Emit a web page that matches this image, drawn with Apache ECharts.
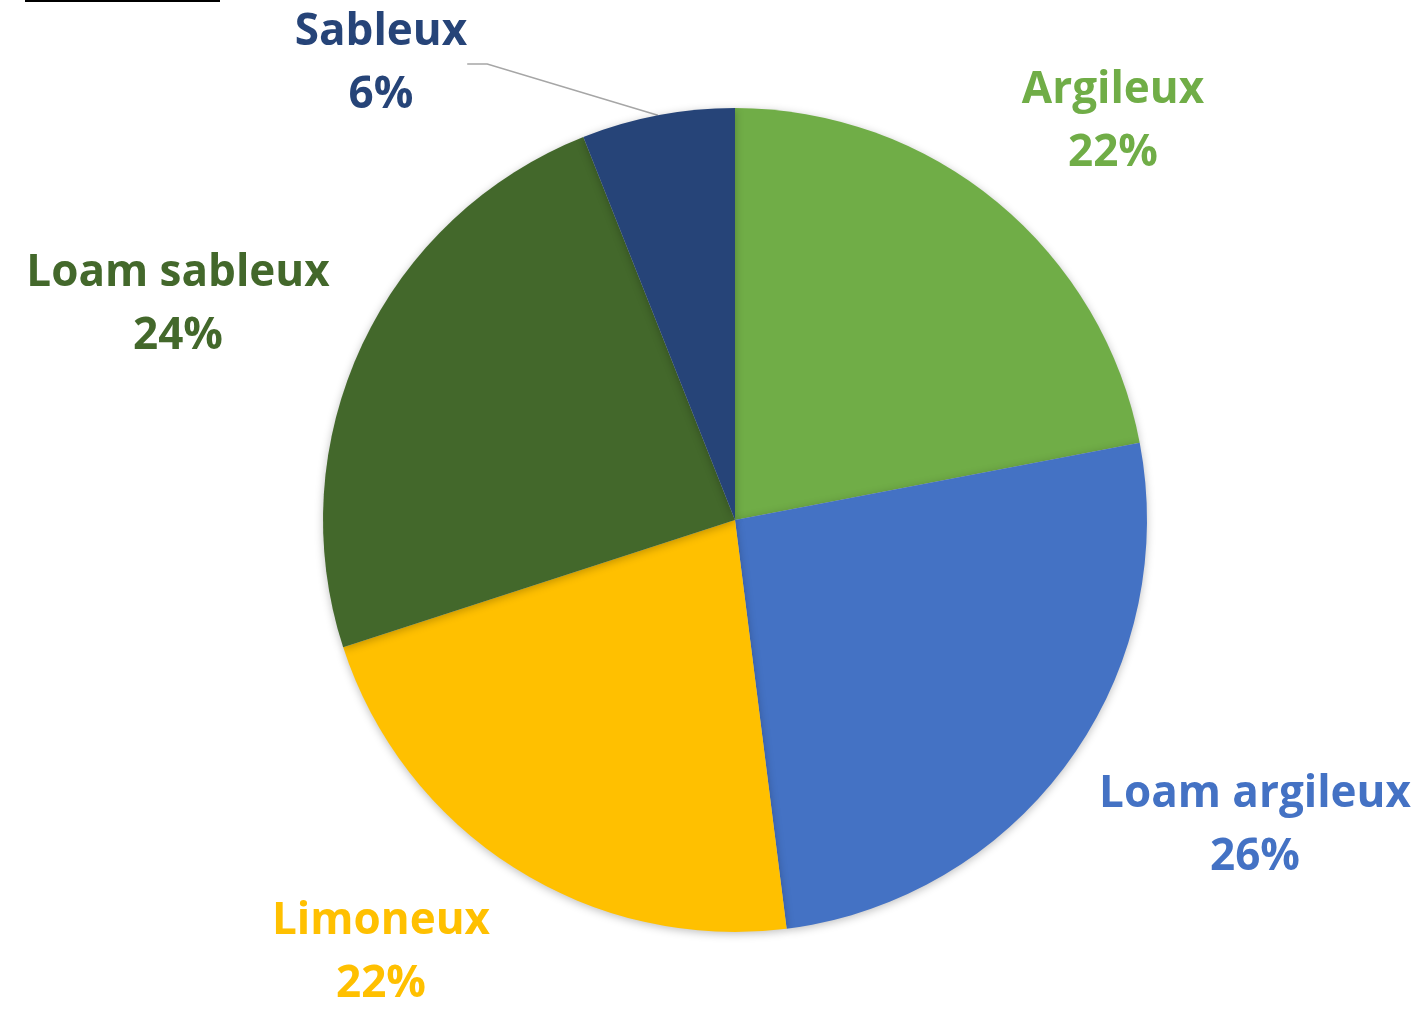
<!DOCTYPE html>
<html>
<head>
<meta charset="utf-8">
<script src="https://cdn.jsdelivr.net/npm/echarts@6/dist/echarts.min.js"></script>
<style>
html,body{margin:0;padding:0;background:#fff;}
#chart{width:1422px;height:1012px;}
</style>
</head>
<body>
<div id="chart"></div>
<script>
const categories = ['Argileux', 'Loam argileux', 'Limoneux', 'Loam sableux', 'Sableux'];
const values = [22, 26, 22, 24, 6];
const colors = ['#70AD47', '#4472C4', '#FFC000', '#43682B', '#264478'];
const labelPos = [[1113, 122], [1255, 826], [381, 953], [178, 305], [381, 64]];

const chart = echarts.init(document.getElementById('chart'), null, {renderer: 'canvas'});
const data = categories.map((c, i) => ({
  name: c,
  value: values[i],
  itemStyle: {color: colors[i]},
  label: {color: colors[i]},
  labelLine: {show: i === 4}
}));

chart.setOption({
  animation: false,
  graphic: [{
    type: 'line',
    shape: {x1: 25, y1: 1, x2: 220, y2: 1},
    style: {stroke: '#000', lineWidth: 2}
  }],
  series: [{
    type: 'pie',
    center: [735, 520],
    radius: 412,
    startAngle: 90,
    clockwise: true,
    data: data,
    itemStyle: {
      shadowBlur: 8,
      shadowColor: 'rgba(0,0,0,0.25)',
      shadowOffsetX: 0,
      shadowOffsetY: 2
    },
    label: {
      show: true,
      position: 'outside',
      formatter: '{b}\n{d}%',
      fontFamily: 'Open Sans',
      fontWeight: 'bold',
      fontSize: 44,
      lineHeight: 63,
      align: 'center',
      overflow: 'none'
    },
    labelLine: {
      length: 20,
      length2: 20,
      lineStyle: {color: '#A6A6A6', width: 1.5}
    },
    labelLayout: function (params) {
      const p = labelPos[params.dataIndex];
      return {x: p[0], y: p[1], align: 'center', verticalAlign: 'middle'};
    }
  }]
});
</script>
</body>
</html>
